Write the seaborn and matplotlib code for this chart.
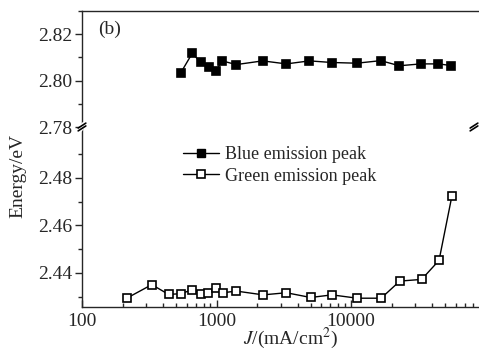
import numpy as np
import pandas as pd
import matplotlib
matplotlib.use('Agg')
import matplotlib.pyplot as plt
from matplotlib.lines import Line2D
from matplotlib.ticker import LogLocator, MultipleLocator, NullFormatter, FixedLocator, FixedFormatter
import seaborn as sns

# ---- data ----
blue_J = [540, 660, 760, 880, 990, 1100, 1400, 2200, 3300, 4900, 7200,
          11000, 16600, 22800, 33000, 44500, 55200]
blue_E = [2.8032, 2.8118, 2.8079, 2.8058, 2.8043, 2.8085, 2.8069, 2.8085,
          2.8072, 2.8085, 2.8078, 2.8075, 2.8086, 2.8064, 2.8072, 2.8072, 2.8065]

green_J = [215, 330, 440, 545, 660, 770, 870, 990, 1120, 1400, 2220, 3300,
           5000, 7200, 11100, 16700, 23000, 33400, 45000, 56000]
green_E = [2.4294, 2.4351, 2.4310, 2.4313, 2.4330, 2.4313, 2.4317, 2.4336,
           2.4317, 2.4324, 2.4308, 2.4317, 2.4297, 2.4308, 2.4294, 2.4294,
           2.4366, 2.4373, 2.4453, 2.4722]

blue_df = pd.DataFrame({'J': blue_J, 'E': blue_E})
green_df = pd.DataFrame({'J': green_J, 'E': green_E})

sns.set_style('ticks')
plt.rcParams['font.family'] = ['Liberation Serif', 'DejaVu Serif']
plt.rcParams['mathtext.fontset'] = 'stix'

fig = plt.figure(figsize=(4.79, 3.53), dpi=100)
left, right = 82 / 479, 478 / 479
y_top, y_brk, y_bot = 1 - 11 / 353, 1 - 127 / 353, 1 - 307 / 353
ax_top = fig.add_axes([left, y_brk, right - left, y_top - y_brk])
ax_bot = fig.add_axes([left, y_bot, right - left, y_brk - y_bot])

line_kw = dict(color='black', linewidth=1.0, marker='s', markersize=6,
               markeredgecolor='black', markeredgewidth=1.2)

sns.lineplot(data=blue_df, x='J', y='E', ax=ax_top, sort=False,
             markerfacecolor='black', **line_kw)
sns.lineplot(data=green_df, x='J', y='E', ax=ax_bot, sort=False,
             markerfacecolor='white', **line_kw)

xmin, xmax = 100, 10 ** (2 + (478 - 82.2) / 134.5)
for ax in (ax_top, ax_bot):
    ax.set_xscale('log')
    ax.set_xlim(xmin, xmax)
    ax.set_xlabel('')
    ax.set_ylabel('')
    ax.spines['right'].set_visible(False)
    for s in ax.spines.values():
        s.set_linewidth(1.0)
    ax.tick_params(axis='y', which='both', direction='out', labelsize=14,
                   width=1.0, pad=2)
    ax.tick_params(axis='y', which='major', length=5)
    ax.tick_params(axis='y', which='minor', length=3)

ax_top.set_ylim(2.78, 2.83)
ax_top.yaxis.set_minor_locator(MultipleLocator(0.01))
ax_top.spines['bottom'].set_visible(False)
ax_top.tick_params(axis='x', which='both', bottom=False, top=False,
                   labelbottom=False)
ax_top.set_yticks([2.78, 2.80, 2.82])
ax_top.set_yticklabels(['2.78', '2.80', '2.82'])

ax_bot.set_ylim(2.4257, 2.5014)
ax_bot.set_yticks([2.44, 2.46, 2.48])
ax_bot.set_yticklabels(['2.44', '2.46', '2.48'])
ax_bot.yaxis.set_minor_locator(FixedLocator([2.43, 2.45, 2.47, 2.49]))
ax_bot.spines['top'].set_visible(False)
ax_bot.xaxis.set_major_locator(FixedLocator([100, 1000, 10000]))
ax_bot.xaxis.set_major_formatter(FixedFormatter(['100', '1000', '10000']))
ax_bot.xaxis.set_minor_locator(LogLocator(base=10, subs=np.arange(2, 10)))
ax_bot.xaxis.set_minor_formatter(NullFormatter())
ax_bot.tick_params(axis='x', which='both', direction='in', labelsize=14,
                   width=1.0, pad=4)
ax_bot.tick_params(axis='x', which='major', length=5)
ax_bot.tick_params(axis='x', which='minor', length=3)

# break marks
def brk(xc):
    for dy in (-0.004, 0.004):
        fig.add_artist(Line2D([xc - 0.008, xc + 0.008],
                              [y_brk + dy - 0.007, y_brk + dy + 0.007],
                              color='black', lw=1.2))
fig.add_artist(Line2D([left - 0.003, left + 0.003], [y_brk - 0.008, y_brk + 0.008],
                      color='white', lw=3))
brk(left)
brk(474 / 479)

ax_top.text(98 / 479, 1 - 29 / 353, '(b)', transform=fig.transFigure,
            fontsize=14, va='center', ha='left')

handles = [
    Line2D([], [], color='black', lw=1.0, marker='s', markersize=6,
           markerfacecolor='black', markeredgecolor='black'),
    Line2D([], [], color='black', lw=1.0, marker='s', markersize=6,
           markerfacecolor='white', markeredgecolor='black', markeredgewidth=1.2),
]
ax_bot.legend(handles, ['Blue emission peak', 'Green emission peak'],
              loc='upper left', bbox_to_anchor=(183 / 479, 1 - 146 / 353),
              bbox_transform=fig.transFigure, frameon=False, fontsize=13,
              handlelength=2.0, handletextpad=0.3, labelspacing=0.25,
              borderpad=0, borderaxespad=0)

fig.text(18 / 479, 1 - 176 / 353, 'Energy/eV', rotation=90, fontsize=14,
         ha='center', va='center')
fig.text(290 / 479, 1 - 338 / 353, r'$J$/(mA/cm$^2$)', fontsize=14,
         ha='center', va='center')

fig.savefig('out.png', dpi=100)
